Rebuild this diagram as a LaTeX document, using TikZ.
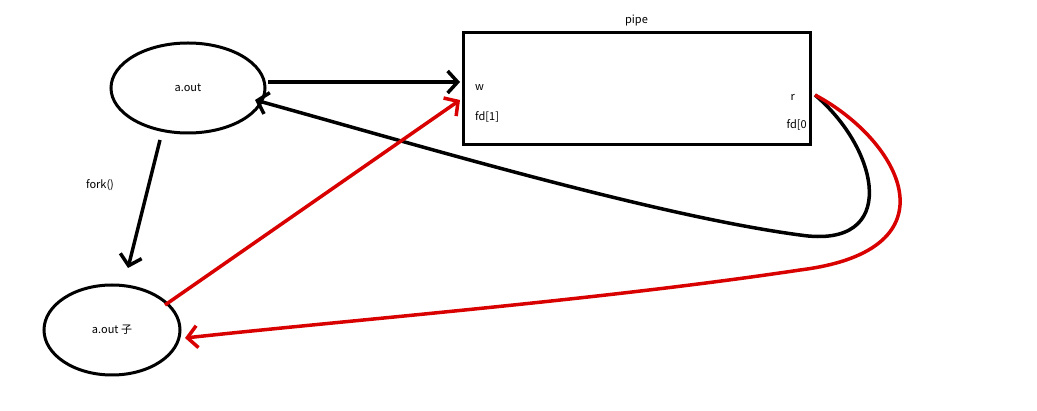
\documentclass[tikz,border=0pt]{standalone}
\usepackage{fontspec}
\setmainfont{Noto Sans CJK SC}
\usetikzlibrary{arrows.meta,shapes.geometric}
\begin{document}
\begin{tikzpicture}[x=1pt,y=-1pt,
  blk/.style={line width=3.5pt,draw=black},
  red/.style={line width=3.5pt,draw=red!85!black},
  tip/.style={-{Straight Barb[length=10pt,width=22pt,line width=3.5pt]}},
  lbl/.style={font=\fontsize{11}{13}\selectfont,inner sep=0pt}]
\useasboundingbox (0,0) rectangle (1037,411);
\node[blk,ellipse,minimum width=154,minimum height=90,lbl,line width=3pt] (a) at (188,88) {a.out};
\node[blk,ellipse,minimum width=136,minimum height=90,lbl,line width=3pt] (c) at (112,330) {a.out 子};
\node[blk,draw,line width=3pt,minimum width=347,minimum height=112] (p) at (636.5,89) {};
\node[lbl,anchor=south] (pl) at (p.north) [yshift=5pt] {pipe};
\node[lbl,anchor=west] (w) at (475,88) {w};
\node[lbl,anchor=west] (f1) at (475,117) {fd[1]};
\node[lbl,anchor=east] (r) at (795,97) {r};
\node[lbl,anchor=east] (f0) at (807,125) {fd[0};
\coordinate (rp) at (815,95);
\draw[blk,tip] (268,82) -- (460,82);
\draw[blk,tip] (160,140) -- (128,268);
\node[lbl] (fk) at (100,185) {fork()};
\draw[blk,tip] (rp) .. controls (880,150) and (900,250) .. (800,235) .. controls (650,215) and (400,140) .. (255,100);
\draw[red,tip] (rp) .. controls (900,140) and (960,250) .. (800,270) .. controls (600,300) and (350,320) .. (185,338);
\draw[red,tip] (165,305) -- (460,100);
\end{tikzpicture}
\end{document}
